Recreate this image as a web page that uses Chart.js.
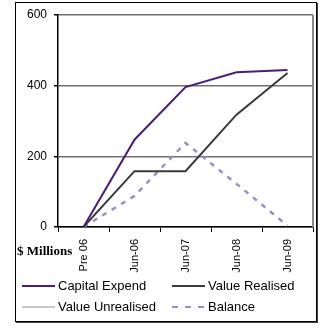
<!DOCTYPE html>
<html lang="en">
  <head>
    <meta charset="UTF-8" />
    <title>Capital Expend vs Value Realised</title>
    <style>
      html, body { margin: 0; padding: 0; background: #fff; }
      #wrap { position: relative; width: 325px; height: 331px; }
    </style>
  </head>
  <body>
    <div id="wrap"><canvas id="lineChartCanvas" width="325" height="331"></canvas></div>

    <script src="https://cdn.jsdelivr.net/npm/chart.js@4.4.1/dist/chart.umd.min.js"></script>
    <script>
        // values ($ millions)
        const periods = ['Pre 06', 'Jun-06', 'Jun-07', 'Jun-08', 'Jun-09'];
        const capitalExpend = [0, 247, 396, 438, 444];
        const valueRealised = [0, 158, 158, 318, 436];
        const valueUnrealised = [null, null, null, null, null];
        const balance = [0, 88, 238, 122, 4];
        const yTicks = [0, 200, 400, 600];
        const unitLabel = '$ Millions';

        // outer frame, plot border, unit label and a 2-column legend
        const framePlugin = {
            id: 'frame',
            beforeDatasetsDraw(chart) {
                const ctx = chart.ctx, a = chart.chartArea;
                ctx.save();
                ctx.strokeStyle = '#8a8a8a';
                ctx.lineWidth = 2;
                ctx.beginPath();
                ctx.moveTo(a.right, a.top);
                ctx.lineTo(a.right, a.bottom);
                ctx.stroke();
                ctx.restore();
            },
            afterDraw(chart) {
                const ctx = chart.ctx;
                ctx.save();
                ctx.strokeStyle = '#000';
                ctx.lineWidth = 1;
                ctx.strokeRect(15.5, 2.5, 301, 319);
                ctx.strokeStyle = '#444';
                ctx.beginPath();
                ctx.moveTo(317.5, 3); ctx.lineTo(317.5, 323);
                ctx.moveTo(16, 322.5); ctx.lineTo(318, 322.5);
                ctx.stroke();

                ctx.fillStyle = '#000';
                ctx.font = 'bold 13px "Liberation Serif", "Times New Roman", serif';
                ctx.textBaseline = 'alphabetic';
                ctx.fillText(unitLabel, 17, 255);

                ctx.font = '13px "Liberation Sans", Arial, sans-serif';
                ctx.textBaseline = 'middle';
                chart.data.datasets.forEach((ds, i) => {
                    const x = 22 + (i % 2) * 150;
                    const y = 286 + Math.floor(i / 2) * 21;
                    ctx.strokeStyle = ds.borderColor;
                    ctx.lineWidth = 2;
                    ctx.setLineDash(ds.borderDash ? [6, 7] : []);
                    ctx.beginPath();
                    ctx.moveTo(x, y); ctx.lineTo(x + 33, y);
                    ctx.stroke();
                    ctx.setLineDash([]);
                    ctx.fillStyle = '#000';
                    ctx.fillText(ds.label, x + 36, y);
                });
                ctx.restore();
            }
        };

        const ctx = document.getElementById('lineChartCanvas').getContext('2d');
        window.lineChart = new Chart(ctx, {
            type: 'line',
            data: {
                labels: periods,
                datasets: [
                    { label: 'Capital Expend', data: capitalExpend, borderColor: '#4b1c78', borderWidth: 2 },
                    { label: 'Value Realised', data: valueRealised, borderColor: '#3a3a3a', borderWidth: 2 },
                    { label: 'Value Unrealised', data: valueUnrealised, borderColor: '#c8c8c8', borderWidth: 2 },
                    { label: 'Balance', data: balance, borderColor: '#9c8ec4', borderWidth: 2.5, borderDash: [5, 6] }
                ]
            },
            options: {
                responsive: false,
                animation: false,
                events: [],
                elements: { point: { radius: 0 }, line: { tension: 0, fill: false } },
                layout: { padding: { left: 0, right: 12, top: 15, bottom: 54 } },
                plugins: { legend: { display: false }, tooltip: { enabled: false } },
                scales: {
                    x: {
                        offset: true,
                        grid: { drawOnChartArea: false, drawTicks: true, tickLength: 5, color: '#000', offset: true },
                        border: { color: '#000', width: 1.5 },
                        ticks: {
                            autoSkip: false, minRotation: 90, maxRotation: 90, padding: 7, color: '#000',
                            font: { family: '"Liberation Sans", Arial, sans-serif', size: 11 }
                        },
                        afterFit(scale) { scale.height = 50; }
                    },
                    y: {
                        min: 0, max: 600,
                        afterBuildTicks(scale) { scale.ticks = yTicks.map(v => ({ value: v })); },
                        grid: { color: '#707070', lineWidth: 1.5, tickLength: 4, tickColor: '#000' },
                        border: { color: '#000', width: 1.5 },
                        ticks: {
                            padding: 7, color: '#000',
                            font: { family: '"Liberation Sans", Arial, sans-serif', size: 12 }
                        },
                        afterFit(scale) { scale.width = 58; }
                    }
                }
            },
            plugins: [framePlugin]
        });
    </script>
  </body>
</html>
